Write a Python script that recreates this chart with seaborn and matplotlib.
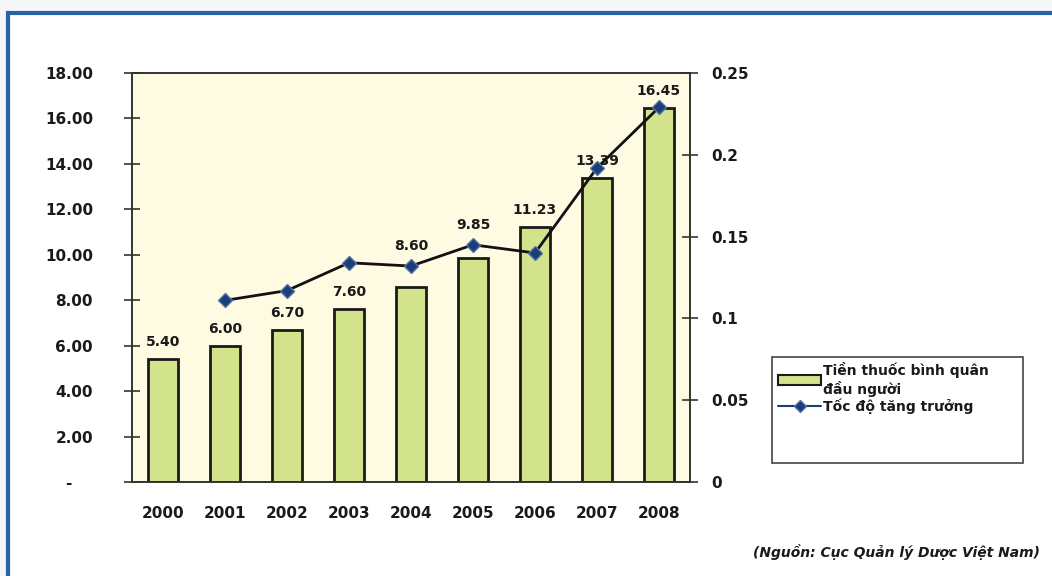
import matplotlib
matplotlib.use("Agg")
import matplotlib.pyplot as plt
from matplotlib.patches import Rectangle, Patch
from matplotlib.lines import Line2D
import seaborn as sns
import pandas as pd
import numpy as np

# Per-capita drug spending (USD) and its year-on-year growth rate
years = ["2000", "2001", "2002", "2003", "2004", "2005", "2006", "2007", "2008"]
spending = [5.40, 6.00, 6.70, 7.60, 8.60, 9.85, 11.23, 13.39, 16.45]
growth_years = ["2001", "2002", "2003", "2004", "2005", "2006", "2007", "2008"]
growth = [0.111, 0.117, 0.134, 0.132, 0.145, 0.140, 0.192, 0.229]

left_ticks = [0, 2, 4, 6, 8, 10, 12, 14, 16, 18]
left_labels = ["-    ", "2.00", "4.00", "6.00", "8.00", "10.00", "12.00", "14.00", "16.00", "18.00"]
right_ticks = [0, 0.05, 0.10, 0.15, 0.20, 0.25]
right_labels = ["0", "0.05", "0.1", "0.15", "0.2", "0.25"]

bar_label = "Tiền thuốc bình quân\nđầu người"
line_label = "Tốc độ tăng trưởng"
source_text = "(Nguồn: Cục Quản lý Dược Việt Nam)"

sns.set_style("white")
plt.rcParams["font.family"] = ["DejaVu Sans"]

W, H = 1052, 576
fig = plt.figure(figsize=(W / 100, H / 100), dpi=100)
fig.patch.set_facecolor("#f4f7f6")

# Blue frame around the panel (drawn beneath the axes)
frame = Rectangle((8 / W, -0.2), 1.2, (H - 13) / H + 0.2, transform=fig.transFigure,
                  facecolor="white", edgecolor="#2a62a6", lw=3, zorder=-10)
fig.patches.append(frame)

ax = fig.add_axes([132 / W, 1 - 482 / H, (690 - 132) / W, (482 - 73) / H])
ax.set_facecolor("#fefbe2")

df_bar = pd.DataFrame({"year": years, "value": spending})
sns.barplot(data=df_bar, x="year", y="value", ax=ax, color="#d2e38c",
            edgecolor="#1a1a1a", linewidth=2, width=0.47, saturation=1)
ax.set_xlim(-0.5, len(years) - 0.5)
ax.set_ylim(0, 18)
ax.set_xlabel("")
ax.set_ylabel("")

ax.set_yticks(left_ticks)
ax.set_yticklabels(left_labels)
ax.tick_params(axis="y", direction="inout", length=12, width=1.2, color="#333333",
               pad=22, labelsize=11)
ax.set_xticks(range(len(years)))
ax.set_xticklabels(years)
ax.set_xticks(np.arange(-0.5, len(years), 1.0), minor=True)
ax.tick_params(axis="x", which="major", length=0, pad=17, labelsize=11)
ax.tick_params(axis="x", which="minor", direction="inout", length=14, width=1.2,
               color="#333333")
for lbl in ax.get_xticklabels() + ax.get_yticklabels():
    lbl.set_fontweight("bold")
    lbl.set_color("#1a1a1a")

for s in ax.spines.values():
    s.set_color("#333333")
    s.set_linewidth(1.2)

# Value labels above the bars
raised = {"2004": 41, "2005": 33}
for i, (yr, v) in enumerate(zip(years, spending)):
    off_px = raised.get(yr, 17)
    ax.annotate(f"{v:.2f}", (i, v), xytext=(0, off_px * 0.72), textcoords="offset points",
                ha="center", va="center", fontsize=10, fontweight="bold", color="#1a1a1a")

# Growth rate on the secondary axis
ax2 = ax.twinx()
df_line = pd.DataFrame({"pos": [years.index(y) for y in growth_years], "rate": growth})
sns.lineplot(data=df_line, x="pos", y="rate", ax=ax2, color="#111111", lw=2,
             marker="D", markersize=7, markerfacecolor="#1d3d78",
             markeredgecolor="#4f74a8", markeredgewidth=1)
ax2.set_ylim(0, 0.25)
ax2.set_xlim(-0.5, len(years) - 0.5)
ax2.set_ylabel("")
ax2.set_yticks(right_ticks)
ax2.set_yticklabels(right_labels)
ax2.tick_params(axis="y", direction="inout", length=12, width=1.2, color="#333333",
                pad=9, labelsize=11)
for lbl in ax2.get_yticklabels():
    lbl.set_fontweight("bold")
    lbl.set_color("#1a1a1a")
for s in ax2.spines.values():
    s.set_color("#333333")
    s.set_linewidth(1.2)
if ax2.get_legend():
    ax2.get_legend().remove()

# Legend box
box = Rectangle((772 / W, 1 - 463 / H), (1023 - 772) / W, (463 - 357) / H,
                transform=fig.transFigure, facecolor="white", edgecolor="#444444",
                lw=1.2, zorder=1)
fig.patches.append(box)

handles = [
    Patch(facecolor="#d2e38c", edgecolor="#1a1a1a", lw=1.5),
    Line2D([], [], color="#1d3d78", lw=1.5, marker="D", markersize=6,
           markerfacecolor="#1d3d78", markeredgecolor="#4f74a8"),
]
leg = fig.legend(handles, [bar_label, line_label], loc="upper left",
                 bbox_to_anchor=(774 / W, 1 - 358 / H), frameon=False,
                 prop={"size": 10, "weight": "bold"}, handlelength=3.1,
                 handletextpad=0.15, borderpad=0.3, labelspacing=0.1,
                 borderaxespad=0)
leg.set_zorder(2)
for t in leg.get_texts():
    t.set_color("#1a1a1a")

fig.text(1040 / W, 1 - 552 / H, source_text, ha="right", va="center",
         fontsize=10, fontstyle="italic", fontweight="bold", color="#1a1a1a")

fig.savefig("out.png", dpi=100, facecolor=fig.get_facecolor())
